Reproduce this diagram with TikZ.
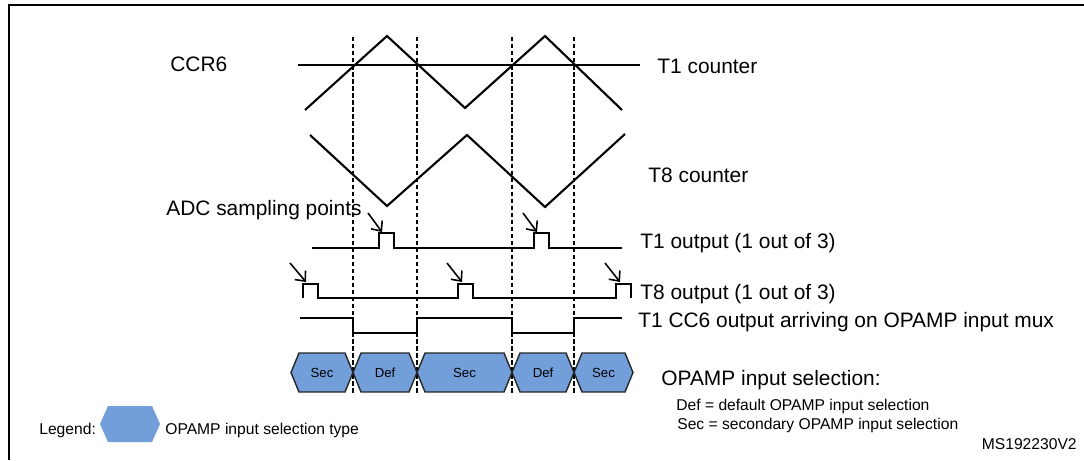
\documentclass[tikz,border=0pt]{standalone}
\usepackage{fontspec}
\setmainfont{Liberation Sans}
\usetikzlibrary{arrows.meta}
\definecolor{hexblue}{RGB}{114,158,218}
\begin{document}
\begin{tikzpicture}[x=0.02cm,y=-0.02cm,
  sig/.style={line width=1.2pt, line join=miter},
  vdash/.style={line width=0.9pt, dash pattern=on 2.5pt off 1.5pt},
  big/.style={font=\fontsize{11.9}{14}\selectfont, anchor=base west, inner sep=0pt},
  small/.style={font=\fontsize{8.9}{11}\selectfont, anchor=base west, inner sep=0pt},
  hexlab/.style={font=\fontsize{7.5}{9}\selectfont, inner sep=0pt},
  hexst/.style={fill=hexblue, draw=black!85, line width=0.8pt},
  arr/.style={line width=0.9pt, -{Straight Barb[length=4.5pt,width=8pt]}}]
\useasboundingbox (0,0) rectangle (1084,460);
% frame
\draw[line width=1.2pt] (9,460) -- (9,5) -- (1084,5);
% vertical dashed lines
\foreach \x in {353,417,512,574} \draw[vdash] (\x,37) -- (\x,393);
% T1 counter
\draw[sig] (298,65) -- (640,65);
\draw[sig] (305,110) -- (387,36) -- (465,108) -- (545,36) -- (622,110);
% T8 counter
\draw[sig] (310,135) -- (387,206) -- (467,135) -- (545,207) -- (625,134);
% T1 output
\draw[sig] (312,248) -- (379,248) -- (379,233) -- (394,233) -- (394,248) -- (534,248) -- (534,233) -- (549,233) -- (549,248) -- (622,248);
% T8 output
\draw[sig] (303,298) -- (303,284) -- (318,284) -- (318,298) -- (458,298) -- (458,284) -- (473,284) -- (473,298) -- (616,298) -- (616,284) -- (631,284) -- (631,298);
% T1 CC6 output
\draw[sig] (300,318) -- (353,318) -- (353,333) -- (417,333) -- (417,318) -- (512,318) -- (512,333) -- (574,333) -- (574,318) -- (622,318);
% sampling arrows
\coordinate (a1s) at (368,213); \coordinate (a1e) at (382,232);
\coordinate (a2s) at (523,213); \coordinate (a2e) at (537,232);
\coordinate (b1s) at (290,263); \coordinate (b1e) at (306,282);
\coordinate (b2s) at (447,263); \coordinate (b2e) at (462,282);
\coordinate (b3s) at (605,263); \coordinate (b3e) at (620,282);
\foreach \s/\e in {a1s/a1e,a2s/a2e,b1s/b1e,b2s/b2e,b3s/b3e} \draw[arr] (\s) -- (\e);
% hexagons
\newcommand\hexa[4]{%
  \filldraw[hexst] (#1,372.5) -- (#1+8,353) -- (#2-8,353) -- (#2,372.5) -- (#2-8,392) -- (#1+8,392) -- cycle;
  \node[hexlab] (#4) at ({(#1+#2)/2},372.5) {#3};}
\hexa{291}{353}{Sec}{h1}
\hexa{353}{417}{Def}{h2}
\hexa{417}{512}{Sec}{h3}
\hexa{512}{574}{Def}{h4}
\hexa{574}{633}{Sec}{h5}
% legend hex
\fill[hexblue] (100,424) -- (108,406) -- (152,406) -- (160,424) -- (152,442) -- (108,442) -- cycle;
% labels
\node[big] (ccr) at (170,71) {CCR6};
\node[big] (t1c) at (657,73) {T1 counter};
\node[big] (t8c) at (648,182) {T8 counter};
\node[big] (adc) at (166,215) {ADC sampling points};
\node[big] (t1o) at (640,248) {T1 output (1 out of 3)};
\node[big] (t8o) at (640,299) {T8 output (1 out of 3)};
\node[big] (cc6) at (638,327) {T1 CC6 output arriving on OPAMP input mux};
\node[big] (sel) at (661,385) {OPAMP input selection:};
\node[small] (def) at (676,410) {Def = default OPAMP input selection};
\node[small] (sec) at (677,429) {Sec = secondary OPAMP input selection};
\node[small, anchor=base east] (ms) at (1077,449) {MS192230V2};
\node[small] (leg) at (39,434) {Legend:};
\node[small] (legt) at (165,434) {OPAMP input selection type};
\end{tikzpicture}
\end{document}
